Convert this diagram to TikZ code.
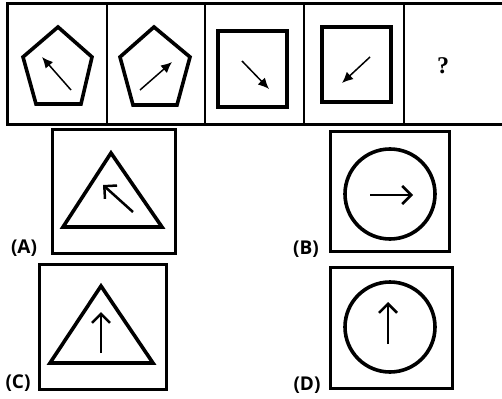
\documentclass[tikz,border=0pt]{standalone}
\usepackage{fontspec}
\setmainfont{Liberation Serif}
\newfontfamily\labelfont{Open Sans}
\usetikzlibrary{arrows.meta}

\begin{document}
\begin{tikzpicture}[x=1pt,y=-1pt,
  frame/.style={line width=3pt},
  figure/.style={line width=3.6pt,line join=miter},
  smallarrow/.style={line width=1.5pt,-{Latex[length=11pt,width=10pt]}},
  bigarrow/.style={line width=2.5pt,-{Straight Barb[length=9pt,width=18pt]}},
  optlabel/.style={font=\labelfont\bfseries\fontsize{19}{19}\selectfont,inner sep=0pt}]

\useasboundingbox (0,0) rectangle (502,398);

% question strip
\draw[frame] (7,4) rectangle (515,125);
\foreach \x in {107,205,304,404}
  \draw[line width=2.4pt] (\x,4) -- (\x,125);

% first pentagon
\draw[figure] (58,27) -- (92,57) -- (81,104) -- (36,104) -- (23,57) -- cycle;
\draw[smallarrow] (71,90) -- (42,57);

% second pentagon
\draw[figure] (154,27) -- (190,57) -- (177,105) -- (133,105) -- (120,57) -- cycle;
\draw[smallarrow] (140,90) -- (172,62);

% first square
\draw[figure] (218,31) rectangle (287,107);
\draw[smallarrow] (242,61) -- (269,89);

% second square
\draw[figure] (322,27) rectangle (391,102);
\draw[smallarrow] (370,57) -- (342,83);

% missing figure
\node[font=\bfseries\fontsize{24}{24}\selectfont] (qmark) at (443,66) {?};

% option A
\draw[frame] (52,130) rectangle (175,253);
\draw[figure] (111,153) -- (162,227) -- (63,227) -- cycle;
\draw[bigarrow] (133,212) -- (103,185);
\node[optlabel] (labA) at (24,248) {(A)};

% option B
\draw[frame] (330,132) rectangle (449,251);
\draw[figure] (390,194) circle (45);
\draw[bigarrow] (370,195) -- (413,195);
\node[optlabel] (labB) at (306,249) {(B)};

% option C
\draw[frame] (39,264) rectangle (166,389);
\draw[figure] (101,286) -- (153,363) -- (50,363) -- cycle;
\draw[bigarrow] (101,353) -- (101,312);
\node[optlabel] (labC) at (18,383) {(C)};

% option D
\draw[frame] (330,267) rectangle (452,388);
\draw[figure] (390,327) circle (45);
\draw[bigarrow] (388,344) -- (388,302);
\node[optlabel] (labD) at (307,385) {(D)};

\end{tikzpicture}
\end{document}
